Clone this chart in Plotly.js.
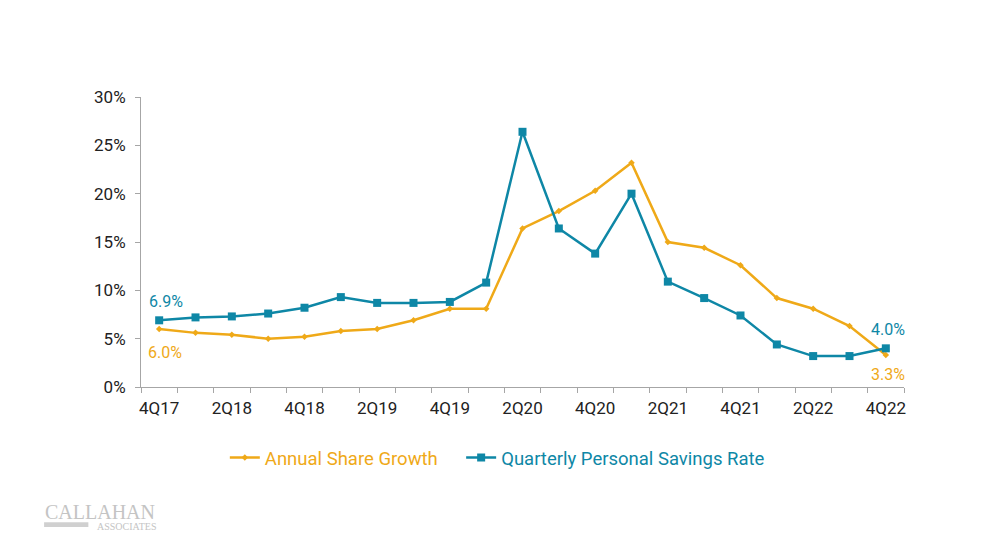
<!DOCTYPE html>
<html>
<head>
<meta charset="utf-8">
<script src="https://cdn.plot.ly/plotly-3.0.1.min.js"></script>
<style>html,body{margin:0;padding:0;background:#fff;}#chart{width:1000px;height:545px;}</style>
</head>
<body>
<div id="chart"></div>
<script>
const quarters = ["4Q17","1Q18","2Q18","3Q18","4Q18","1Q19","2Q19","3Q19","4Q19","1Q20","2Q20","3Q20","4Q20","1Q21","2Q21","3Q21","4Q21","1Q22","2Q22","3Q22","4Q22"];
const shareGrowth = [6.0,5.6,5.4,5.0,5.2,5.8,6.0,6.9,8.1,8.1,16.4,18.2,20.3,23.2,15.0,14.4,12.6,9.2,8.1,6.3,3.3];
const savingsRate = [6.9,7.2,7.3,7.6,8.2,9.3,8.7,8.7,8.8,10.8,26.4,16.4,13.8,20.0,10.9,9.2,7.4,4.4,3.2,3.2,4.0];
const yTicks = [0,5,10,15,20,25,30];
const seriesNames = ["Annual Share Growth","Quarterly Personal Savings Rate"];

const orange = "#EFA918";
const teal = "#0E87A6";

const traces = [
  {x: quarters, y: shareGrowth, type: "scatter", mode: "lines+markers",
   name: '<span style="color:' + orange + '">' + seriesNames[0] + '</span>\u00a0\u00a0\u00a0\u00a0',
   line: {color: orange, width: 2.5}, marker: {symbol: "diamond", size: 5, color: orange}},
  {x: quarters, y: savingsRate, type: "scatter", mode: "lines+markers",
   name: '<span style="color:' + teal + '">' + seriesNames[1] + '</span>',
   line: {color: teal, width: 2.5}, marker: {symbol: "square", size: 8, color: teal}}
];

const last = quarters.length - 1;
const annotations = [
  {x: quarters[0], y: savingsRate[0], text: savingsRate[0].toFixed(1) + "%", showarrow: false, yshift: 19, xshift: 7, font: {color: teal, size: 16}},
  {x: quarters[0], y: shareGrowth[0], text: shareGrowth[0].toFixed(1) + "%", showarrow: false, yshift: -23, xshift: 6, font: {color: orange, size: 16}},
  {x: quarters[last], y: savingsRate[last], text: savingsRate[last].toFixed(1) + "%", showarrow: false, yshift: 19, xshift: 2, font: {color: teal, size: 16}},
  {x: quarters[last], y: shareGrowth[last], text: shareGrowth[last].toFixed(1) + "%", showarrow: false, yshift: -19, xshift: 2, font: {color: orange, size: 16}},
  {xref: "paper", yref: "paper", x: -0.129, y: -0.430, xanchor: "left", yanchor: "middle", text: "CALLAHAN", showarrow: false,
   font: {family: "Liberation Serif, serif", size: 20, color: "#c4c4c4"}},
  {xref: "paper", yref: "paper", x: -0.060, y: -0.482, xanchor: "left", yanchor: "middle", text: "ASSOCIATES", showarrow: false,
   font: {family: "Liberation Serif, serif", size: 10, color: "#c4c4c4"}}
];

const layout = {
  width: 1000, height: 545,
  margin: {l: 141, r: 96, t: 97, b: 158},
  paper_bgcolor: "#fff", plot_bgcolor: "#fff",
  font: {family: "Roboto, sans-serif", color: "#222"},
  showlegend: true,
  legend: {orientation: "h", x: 0.467, xanchor: "center", y: -0.245, yanchor: "middle",
           font: {size: 18.5}, itemwidth: 30, tracegroupgap: 0},
  xaxis: {type: "category", categoryorder: "array", categoryarray: quarters,
          tickmode: "array", tickvals: quarters,
          ticktext: quarters.map((q, i) => i % 2 === 0 ? q : ""), tickangle: 0,
          tickson: "boundaries", ticks: "outside", ticklen: 5, tickcolor: "#a6a6a6",
          ticklabelstandoff: 6,
          showline: true, linecolor: "#a6a6a6", linewidth: 1, showgrid: false, zeroline: false,
          tickfont: {size: 17, color: "#222"}, range: [-0.5, quarters.length - 0.5]},
  yaxis: {range: [0, 30], tickmode: "array", tickvals: yTicks, ticktext: yTicks.map(v => v + "%"),
          ticks: "outside", ticklen: 5, tickcolor: "#a6a6a6", ticklabelstandoff: 6,
          showline: true, linecolor: "#a6a6a6", linewidth: 1, showgrid: false, zeroline: false,
          tickfont: {size: 17, color: "#222"}},
  annotations: annotations,
  shapes: [
    {type: "rect", xref: "paper", yref: "paper", x0: -0.127, x1: -0.069, y0: -0.483, y1: -0.466,
     fillcolor: "#d0d0d0", line: {width: 0}}
  ]
};

Plotly.newPlot("chart", traces, layout, {displayModeBar: false, staticPlot: true});
</script>
</body>
</html>
